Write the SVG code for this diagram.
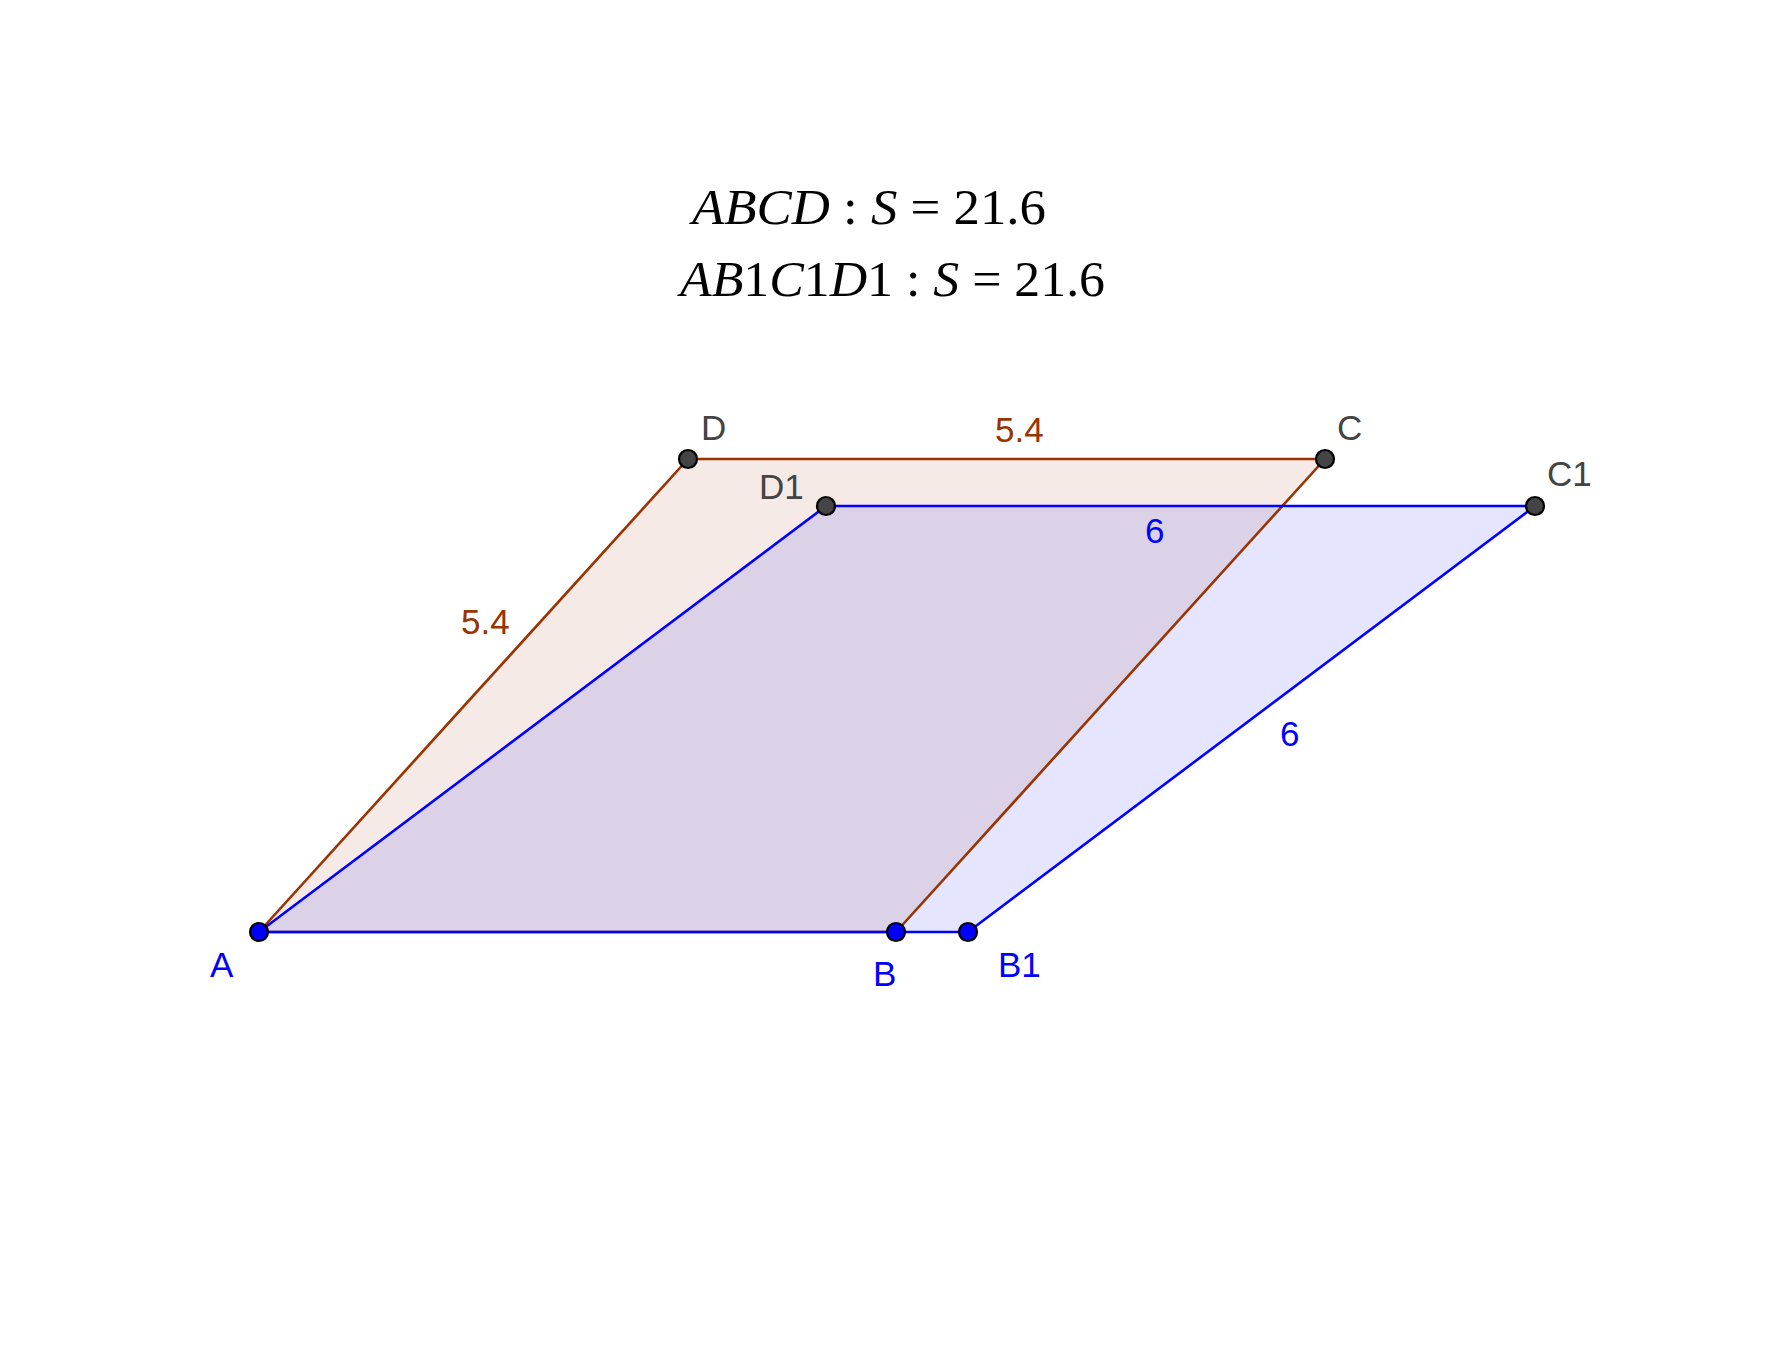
<svg xmlns="http://www.w3.org/2000/svg" width="1781" height="1370" viewBox="0 0 1781 1370">
<style>
.lbl{font-family:"Liberation Sans",Arial,sans-serif;font-size:35px}
.gray{fill:#444444}
.blue{fill:#0000FF}
.brown{fill:#993300}
.m{font-family:"Liberation Serif","Times New Roman",serif;font-size:50px;fill:#000}
.i{font-style:italic}
.pb{fill:#0000FF;stroke:#000;stroke-width:2.2}
.pg{fill:#444444;stroke:#000;stroke-width:2.2}
.eb{stroke:#0000FF;stroke-width:2.6;fill:none}
.er{stroke:#993300;stroke-width:2.6;fill:none}
</style>
<rect width="1781" height="1370" fill="#ffffff"/>
<g id="titles">
<text class="m" x="692" y="224" textLength="354" lengthAdjust="spacingAndGlyphs"><tspan class="i">ABCD</tspan> : <tspan class="i">S</tspan> = 21.6</text>
<text class="m" x="680" y="296" textLength="425" lengthAdjust="spacingAndGlyphs"><tspan class="i">AB</tspan>1<tspan class="i">C</tspan>1<tspan class="i">D</tspan>1 : <tspan class="i">S</tspan> = 21.6</text>
</g>
<g id="fills">
<polygon id="ABCD-fill" points="259,932 896,932 1325,459 688,459" fill="#993300" fill-opacity="0.1"/>
<polygon id="AB1C1D1-fill" points="259,932 968,932 1535,506 826,506" fill="#0000FF" fill-opacity="0.1"/>
</g>
<g id="connectors">
<line class="er" x1="259" y1="932" x2="896" y2="932"/>
<line class="er" x1="896" y1="932" x2="1325" y2="459"/>
<line class="er" x1="1325" y1="459" x2="688" y2="459"/>
<line class="er" x1="688" y1="459" x2="259" y2="932"/>
<line class="eb" x1="259" y1="932" x2="968" y2="932"/>
<line class="eb" x1="968" y1="932" x2="1535" y2="506"/>
<line class="eb" x1="1535" y1="506" x2="826" y2="506"/>
<line class="eb" x1="826" y1="506" x2="259" y2="932"/>
</g>
<g id="edge-labels">
<text class="lbl brown" x="995" y="442">5.4</text>
<text class="lbl brown" x="461" y="634">5.4</text>
<text class="lbl blue" x="1145" y="543">6</text>
<text class="lbl blue" x="1280" y="746">6</text>
</g>
<g id="A"><circle class="pb" cx="259" cy="932" r="9"/><text class="lbl blue" x="210" y="977">A</text></g>
<g id="B"><circle class="pb" cx="896" cy="932" r="9"/><text class="lbl blue" x="873" y="986">B</text></g>
<g id="B1"><circle class="pb" cx="968" cy="932" r="9"/><text class="lbl blue" x="998" y="977">B1</text></g>
<g id="D"><circle class="pg" cx="688" cy="459" r="9"/><text class="lbl gray" x="701" y="440">D</text></g>
<g id="C"><circle class="pg" cx="1325" cy="459" r="9"/><text class="lbl gray" x="1337" y="440">C</text></g>
<g id="D1"><circle class="pg" cx="826" cy="506" r="9"/><text class="lbl gray" x="759" y="499">D1</text></g>
<g id="C1"><circle class="pg" cx="1535" cy="506" r="9"/><text class="lbl gray" x="1547" y="486">C1</text></g>
</svg>
